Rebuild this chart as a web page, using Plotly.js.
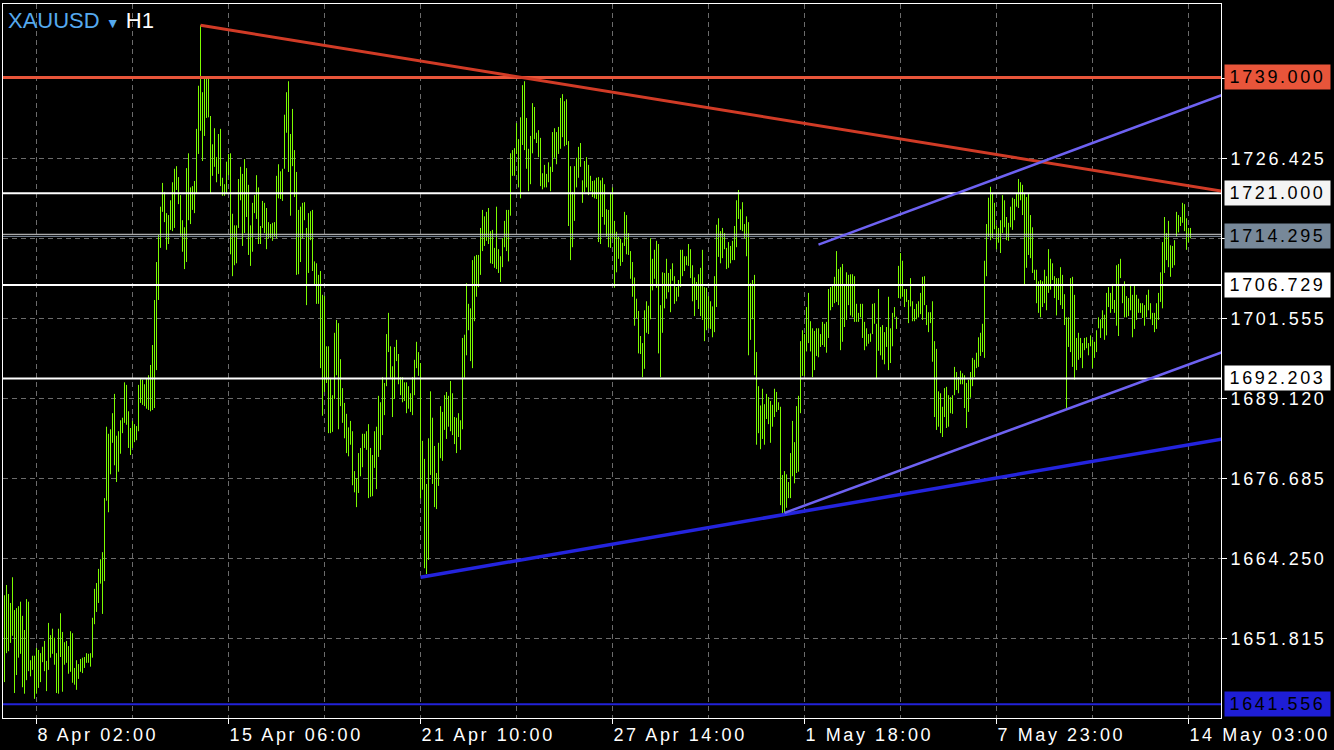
<!DOCTYPE html>
<html>
<head>
<meta charset="utf-8">
<script src="https://cdn.plot.ly/plotly-3.0.1.min.js"></script>
<style>
html, body { margin: 0; padding: 0; background: #000; }
#chart { width: 1334px; height: 750px; }
.xtick text, text.xtick, .ytick text, text.ytick, text.annotation-text { letter-spacing: 2.6px; }
</style>
</head>
<body>
<div id="chart"></div>
<script>
// ---- XAUUSD H1 bars (high / low), one entry per hourly bar ----
const barHighs = [
1658.5,1660.1,1658.7,1657.3,1661.3,1656.2,1656.5,1656.8,1657.5,1655.3,
1653.1,1657.9,1657.5,1648.4,1649.1,1649.1,1650.3,1650.0,1649.5,1650.5,
1651.4,1648.3,1654.2,1652.3,1653.3,1651.9,1649.5,1653.3,1655.7,1652.8,
1651.2,1651.4,1650.6,1652.9,1652.6,1647.2,1648.4,1647.8,1648.6,1648.8,
1648.9,1649.5,1649.4,1649.5,1655.0,1659.5,1660.4,1662.6,1664.1,1665.2,
1673.6,1684.7,1683.6,1684.3,1686.8,1689.8,1683.3,1684.0,1685.7,1686.1,
1691.6,1691.2,1687.1,1684.5,1685.6,1685.1,1684.8,1691.2,1692.1,1692.0,
1691.3,1692.1,1692.7,1694.3,1697.4,1704.4,1710.3,1714.5,1718.9,1722.6,
1721.2,1717.9,1717.6,1719.9,1722.7,1724.8,1725.2,1723.5,1720.7,1716.8,
1715.7,1724.9,1727.2,1721.9,1722.1,1722.9,1731.0,1737.7,1747.1,1736.7,
1738.9,1738.9,1738.9,1733.0,1728.6,1731.1,1726.6,1730.2,1731.0,1723.4,
1722.4,1725.9,1727.1,1727.2,1717.8,1716.0,1716.0,1723.2,1725.1,1724.0,
1726.3,1724.9,1722.3,1716.0,1719.5,1720.7,1723.8,1721.9,1715.9,1719.8,
1719.5,1718.7,1716.5,1716.2,1716.4,1716.5,1723.7,1725.5,1724.4,1724.8,
1733.2,1736.7,1738.4,1730.2,1734.1,1727.7,1724.3,1718.4,1718.9,1719.5,
1719.6,1715.6,1717.9,1718.2,1718.4,1710.4,1710.1,1708.3,1708.9,1705.2,
1705.0,1697.2,1697.2,1692.3,1689.6,1699.3,1701.3,1700.8,1695.2,1690.7,
1688.4,1686.7,1684.6,1685.6,1684.0,1677.8,1676.7,1680.6,1681.4,1683.6,
1683.6,1684.0,1685.1,1681.4,1680.3,1684.0,1684.7,1689.5,1688.5,1692.4,
1691.5,1699.1,1702.4,1697.2,1694.1,1697.1,1698.2,1696.0,1692.4,1692.4,
1691.6,1691.6,1691.0,1689.9,1692.4,1695.1,1697.9,1696.3,1694.6,1682.5,
1679.7,1675.8,1682.9,1690.2,1686.1,1681.7,1677.5,1682.2,1687.9,1687.0,
1689.6,1690.1,1689.5,1691.8,1689.9,1686.2,1686.1,1686.8,1685.7,1698.5,
1699.0,1707.0,1703.8,1703.1,1710.6,1711.2,1711.4,1711.4,1715.6,1718.4,
1717.4,1718.1,1718.7,1715.1,1715.3,1712.5,1718.9,1712.3,1711.2,1714.0,
1716.7,1718.4,1718.4,1727.2,1727.7,1728.0,1731.9,1729.4,1732.8,1737.8,
1738.4,1732.7,1727.9,1729.9,1735.0,1734.4,1730.4,1730.8,1729.6,1724.1,
1725.4,1724.0,1725.8,1725.1,1730.5,1731.1,1730.5,1731.3,1735.8,1736.4,
1735.3,1735.6,1729.1,1725.2,1721.2,1725.2,1726.5,1728.2,1728.8,1723.0,
1726.0,1726.6,1725.4,1723.7,1722.9,1723.0,1723.4,1723.5,1723.0,1723.4,
1722.4,1718.5,1718.4,1721.0,1721.9,1716.7,1715.0,1714.3,1713.9,1713.3,
1718.1,1717.6,1714.8,1712.0,1710.3,1707.9,1704.6,1702.7,1698.8,1697.7,
1702.8,1704.2,1703.5,1714.0,1710.8,1712.2,1713.6,1713.1,1703.6,1708.7,
1708.6,1710.8,1708.6,1709.2,1710.1,1708.1,1706.4,1707.5,1712.2,1712.2,
1711.2,1711.2,1713.1,1712.3,1709.8,1707.9,1707.2,1708.4,1709.4,1712.2,
1706.4,1706.3,1705.0,1704.2,1703.4,1708.1,1716.1,1717.1,1715.1,1715.6,
1714.8,1712.5,1713.4,1712.8,1713.6,1715.9,1719.9,1721.5,1718.5,1719.6,
1716.2,1717.4,1716.5,1707.0,1707.5,1708.3,1696.3,1691.0,1688.0,1690.6,
1688.2,1689.8,1689.3,1688.7,1688.1,1690.6,1690.1,1688.5,1687.8,1677.2,
1677.8,1677.3,1676.1,1680.6,1685.6,1682.3,1687.9,1689.5,1698.0,1699.7,
1699.1,1703.3,1705.5,1701.1,1700.0,1699.6,1700.0,1700.0,1699.1,1701.0,
1700.7,1701.0,1706.1,1706.4,1706.7,1708.0,1712.0,1709.2,1709.5,1710.0,
1706.9,1708.7,1708.3,1708.4,1708.4,1708.1,1703.8,1702.4,1703.8,1703.8,
1701.0,1700.0,1699.1,1699.2,1703.8,1703.9,1700.7,1706.1,1700.2,1700.5,
1699.4,1700.2,1704.9,1700.0,1702.4,1703.3,1701.8,1709.7,1711.7,1710.5,
1706.1,1706.1,1704.4,1707.8,1704.2,1703.0,1703.8,1704.2,1705.5,1708.0,
1708.1,1703.6,1702.5,1702.5,1704.2,1698.0,1696.8,1690.2,1689.9,1687.8,
1690.7,1690.9,1689.6,1689.3,1689.6,1694.0,1693.2,1692.4,1693.4,1693.0,
1692.7,1691.5,1692.0,1693.2,1695.4,1695.1,1696.2,1698.6,1699.3,1700.7,
1710.5,1716.2,1720.3,1722.0,1720.9,1719.5,1716.0,1715.6,1716.8,1720.7,
1719.9,1717.3,1716.4,1718.9,1720.3,1720.1,1721.0,1723.2,1722.7,1722.3,
1721.0,1720.4,1721.0,1717.6,1715.7,1709.1,1709.1,1707.3,1707.5,1707.3,
1709.1,1708.1,1712.3,1710.8,1710.1,1708.1,1707.8,1707.8,1709.5,1708.3,
1705.3,1701.7,1701.7,1707.8,1708.0,1705.2,1698.5,1699.3,1698.5,1697.7,
1698.5,1698.6,1697.7,1698.9,1698.2,1697.9,1699.7,1701.7,1701.4,1702.8,
1702.1,1705.5,1706.4,1705.5,1706.9,1704.4,1709.8,1710.0,1710.8,1706.7,
1707.3,1705.0,1704.7,1706.6,1705.2,1706.6,1705.2,1704.6,1703.9,1703.9,
1703.6,1705.2,1706.0,1703.9,1702.4,1702.4,1703.9,1705.5,1708.7,1713.4,
1717.3,1714.8,1716.7,1712.9,1712.8,1713.7,1718.1,1717.6,1717.3,1719.5,
1719.3,1717.1,1715.6,1715.6
];
const barLows = [
1645.0,1649.5,1649.8,1651.1,1652.2,1643.3,1646.1,1648.8,1649.4,1644.2,
1643.2,1645.3,1646.7,1645.9,1646.9,1642.4,1643.2,1644.1,1645.0,1648.1,
1646.7,1643.6,1646.9,1648.8,1649.4,1647.7,1643.3,1643.2,1648.9,1643.5,
1647.7,1648.0,1646.3,1646.6,1644.9,1644.6,1643.8,1645.5,1646.6,1646.4,
1647.2,1648.0,1648.0,1647.4,1648.8,1654.0,1655.9,1657.3,1660.3,1655.6,
1660.7,1673.2,1671.4,1677.3,1682.2,1678.7,1676.1,1677.7,1680.5,1683.7,
1685.3,1685.0,1681.4,1680.3,1681.4,1682.3,1682.6,1684.0,1688.4,1688.1,
1687.9,1687.5,1687.3,1687.1,1687.3,1687.6,1693.5,1704.4,1712.5,1718.1,
1716.5,1712.2,1713.1,1715.3,1715.1,1715.6,1721.5,1719.3,1714.4,1711.9,
1709.2,1710.3,1716.8,1716.2,1718.4,1717.9,1721.0,1727.1,1730.7,1726.0,
1729.9,1732.7,1732.8,1720.9,1723.7,1725.1,1722.7,1724.0,1722.1,1720.6,
1720.6,1720.9,1723.8,1711.5,1708.1,1709.8,1710.1,1715.6,1719.9,1712.8,
1714.8,1717.3,1711.4,1709.7,1711.9,1717.9,1717.0,1713.1,1713.1,1715.6,
1714.8,1712.3,1714.0,1714.0,1713.6,1714.2,1714.0,1720.2,1720.1,1719.8,
1724.8,1730.4,1724.3,1717.5,1725.2,1720.4,1708.3,1708.4,1710.3,1714.0,
1716.8,1703.6,1708.6,1713.7,1708.9,1706.6,1703.8,1703.8,1693.8,1686.4,
1690.1,1691.5,1683.7,1683.7,1683.9,1689.0,1692.7,1684.3,1687.9,1685.3,
1682.9,1680.6,1680.1,1681.9,1675.6,1674.5,1672.2,1674.4,1677.0,1678.4,
1681.4,1681.1,1673.6,1673.8,1673.9,1678.3,1675.0,1680.0,1681.1,1683.4,
1686.5,1691.0,1696.3,1692.3,1686.2,1689.0,1694.9,1691.3,1689.6,1688.5,
1688.7,1686.8,1687.5,1687.0,1686.5,1689.6,1693.8,1692.6,1673.5,1674.9,
1662.7,1661.8,1664.0,1677.2,1675.8,1672.2,1671.9,1675.5,1679.8,1679.4,
1684.2,1682.8,1684.7,1684.0,1683.4,1682.0,1680.6,1683.1,1681.1,1684.3,
1692.3,1695.8,1699.7,1694.9,1693.8,1701.1,1704.9,1706.4,1708.3,1712.0,
1712.8,1713.6,1713.1,1710.1,1710.0,1709.4,1709.2,1708.6,1707.2,1709.5,
1712.6,1712.0,1710.4,1717.5,1723.7,1723.7,1727.1,1721.9,1720.2,1728.5,
1727.7,1724.8,1721.3,1722.4,1727.2,1729.4,1728.8,1726.6,1722.1,1721.6,
1721.9,1721.9,1722.7,1721.3,1724.3,1726.5,1725.5,1727.1,1727.9,1729.7,
1728.3,1728.5,1715.9,1710.6,1712.6,1716.7,1721.9,1723.4,1725.1,1719.5,
1721.2,1721.9,1720.7,1721.3,1720.4,1720.2,1720.1,1713.4,1713.1,1717.3,
1716.1,1714.2,1712.6,1712.5,1713.9,1706.3,1708.7,1710.8,1709.7,1710.3,
1712.8,1711.5,1711.4,1707.7,1704.9,1700.4,1701.6,1696.1,1696.0,1692.4,
1693.7,1699.3,1699.1,1701.4,1705.9,1707.7,1706.3,1696.1,1692.4,1699.3,
1703.1,1704.6,1705.6,1702.5,1707.4,1703.8,1704.2,1704.9,1706.4,1708.1,
1708.9,1709.8,1709.7,1707.8,1704.2,1701.9,1704.4,1703.0,1701.9,1701.3,
1698.0,1699.7,1700.0,1699.9,1698.6,1699.4,1703.3,1711.1,1710.1,1710.9,
1712.3,1709.2,1709.4,1710.1,1710.6,1710.6,1712.6,1717.0,1715.3,1715.1,
1714.0,1711.2,1695.8,1698.2,1701.4,1692.7,1681.9,1683.7,1681.2,1682.8,
1681.9,1685.9,1685.1,1682.2,1684.7,1686.2,1687.0,1687.3,1672.5,1671.3,
1671.3,1672.1,1673.6,1673.6,1677.0,1675.9,1677.5,1677.7,1686.8,1692.6,
1692.6,1696.4,1697.7,1696.4,1692.4,1693.5,1695.7,1695.5,1697.1,1697.4,
1697.1,1696.2,1698.5,1702.8,1703.3,1703.9,1704.1,1703.6,1696.6,1697.9,
1700.2,1701.3,1703.6,1702.0,1701.7,1701.0,1701.0,1701.0,1701.7,1698.5,
1696.6,1697.2,1697.6,1697.9,1699.1,1700.7,1692.1,1696.5,1695.8,1695.1,
1694.4,1697.1,1693.5,1694.6,1697.2,1701.7,1699.9,1704.7,1704.6,1704.9,
1703.3,1704.1,1700.8,1703.4,1701.1,1701.1,1701.4,1701.7,1702.2,1701.3,
1703.6,1700.5,1699.4,1700.8,1694.8,1686.2,1684.2,1684.7,1683.7,1683.1,
1686.2,1684.5,1684.7,1686.8,1686.7,1689.6,1690.4,1689.9,1691.3,1691.3,
1687.6,1684.5,1687.0,1689.2,1691.0,1692.4,1693.8,1694.0,1695.7,1696.3,
1695.4,1708.1,1714.2,1713.7,1714.0,1715.4,1712.3,1713.3,1711.7,1714.8,
1715.7,1713.7,1713.6,1715.7,1715.3,1716.8,1718.9,1718.7,1719.9,1717.6,
1706.7,1709.4,1711.4,1710.9,1708.6,1707.5,1703.9,1702.4,1701.7,1703.3,
1703.9,1702.8,1705.5,1706.0,1707.5,1704.7,1702.0,1704.4,1703.6,1703.0,
1700.5,1687.5,1697.1,1696.3,1694.0,1692.0,1693.5,1695.1,1695.4,1693.8,
1696.6,1696.9,1695.8,1697.2,1693.8,1695.4,1696.3,1700.0,1698.5,1700.0,
1698.2,1698.9,1703.3,1702.4,1703.0,1702.4,1700.4,1698.8,1707.8,1703.9,
1701.7,1701.7,1701.9,1702.8,1698.6,1699.9,1701.3,1702.4,1702.4,1701.6,
1700.4,1701.7,1702.8,1701.4,1700.5,1699.4,1699.9,1701.3,1704.1,1703.1,
1708.6,1710.6,1709.5,1708.0,1709.4,1709.8,1714.2,1714.9,1715.9,1716.4,
1715.1,1712.2,1713.4,1714.0
];

// ---- time axis (bar index of labelled ticks) ----
const timeTickBars = [16, 112, 208, 304, 400, 496, 592];
const timeTickLabels = ['8 Apr 02:00', '15 Apr 06:00', '21 Apr 10:00', '27 Apr 14:00', '1 May 18:00', '7 May 23:00', '14 May 03:00'];

// ---- price axis ticks ----
const priceTicks = [1651.815, 1664.250, 1676.685, 1689.120, 1701.555, 1713.990, 1726.425, 1738.860];
const priceRange = [1639.42, 1750.41];

// ---- horizontal price levels with right-side labels ----
const levelPrices = [1739.000, 1721.000, 1714.295, 1706.729, 1692.203, 1641.556];
const levelLineColors = ['#e8553a', '#ffffff', '#8c99aa', '#ffffff', '#ffffff', '#2222d8'];
const levelLineWidths = [3, 2, 1, 2, 2, 2];
const levelLabelBg = ['#e8553a', '#f4f4f4', '#778899', '#ffffff', '#ffffff', '#1e1ed6'];
const askPrice = 1714.61;

// ---- trend lines (bar index, price) ----
const resistanceBars = [98, 609];
const resistancePrices = [1747.1, 1721.3];
const supportBars = [208, 609];
const supportPrices = [1661.3, 1682.8];
const upperChannelBars = [407, 609];
const upperChannelPrices = [1713.0, 1736.3];
const lowerChannelBars = [390, 609];
const lowerChannelPrices = [1671.3, 1696.3];

// ---- build bar segments ----
const segX = [], segY = [];
barHighs.forEach((h, i) => {
  segX.push(i, i, null);
  segY.push(barLows[i], h, null);
});

const FONT = 'Liberation Sans, Arial, sans-serif';
const gridColor = '#6b6b6b';
const gridDash = '5px,4px';

const shapes = [];
levelPrices.forEach((p, i) => {
  shapes.push({type: 'line', xref: 'paper', x0: 0, x1: 1, yref: 'y', y0: p, y1: p,
    line: {color: levelLineColors[i], width: levelLineWidths[i]}});
});
shapes.push({type: 'line', xref: 'paper', x0: 0, x1: 1, yref: 'y', y0: askPrice, y1: askPrice,
  line: {color: '#d6d6d6', width: 1}});
function trend(bars, prices, color, width) {
  shapes.push({type: 'line', xref: 'x', yref: 'y', x0: bars[0], x1: bars[1], y0: prices[0], y1: prices[1],
    line: {color: color, width: width}});
}
trend(resistanceBars, resistancePrices, '#d13b26', 3);
trend(supportBars, supportPrices, '#2424de', 3.5);
trend(upperChannelBars, upperChannelPrices, '#6e62f2', 2.5);
trend(lowerChannelBars, lowerChannelPrices, '#6e62f2', 2.5);

const annotations = levelPrices.map((p, i) => ({
  xref: 'paper', x: 1.00246, xanchor: 'left', yref: 'y', y: p, yanchor: 'middle',
  text: p.toFixed(3), showarrow: false, bgcolor: levelLabelBg[i], borderpad: 2,
  width: 101, align: 'center',
  font: {family: FONT, size: 18, color: '#000000'}
}));

const minorBars = timeTickBars.slice(0, -1).map(v => v + 48);

const data = [{
  type: 'scatter', mode: 'lines', x: segX, y: segY,
  line: {color: '#7cfc00', width: 1, simplify: false},
  hoverinfo: 'skip', connectgaps: false
}];

const layout = {
  width: 1334, height: 750,
  paper_bgcolor: '#000000', plot_bgcolor: '#000000',
  margin: {l: 3, r: 113, t: 4, b: 32},
  showlegend: false,
  title: {
    text: '<span style="color:#55a9ee">XAUUSD</span> <span style="color:#55a9ee;font-size:14px">▼</span> H1',
    xref: 'container', yref: 'container', x: 8 / 1334, xanchor: 'left', y: 1 - 20 / 750, yanchor: 'middle',
    font: {family: FONT, size: 22, color: '#ffffff'}
  },
  xaxis: {
    range: [-0.75, 608.25], zeroline: false,
    tickmode: 'array', tickvals: timeTickBars, ticktext: timeTickLabels,
    ticks: 'outside', ticklen: 5, tickwidth: 1, tickcolor: '#ffffff',
    ticklabelposition: 'outside right',
    tickfont: {family: FONT, size: 18, color: '#ffffff'},
    showgrid: true, gridcolor: gridColor, griddash: gridDash, gridwidth: 1,
    minor: {tickvals: minorBars, showgrid: true, gridcolor: gridColor, griddash: gridDash, gridwidth: 1, ticks: ''},
    showline: true, linecolor: '#ffffff', linewidth: 1, mirror: true, fixedrange: true
  },
  yaxis: {
    side: 'right', range: priceRange, zeroline: false,
    tickmode: 'array', tickvals: priceTicks, ticktext: priceTicks.map(v => v.toFixed(3)),
    ticks: 'outside', ticklen: 5, tickwidth: 1, tickcolor: '#ffffff',
    tickfont: {family: FONT, size: 18, color: '#ffffff'},
    showgrid: true, gridcolor: gridColor, griddash: gridDash, gridwidth: 1,
    showline: true, linecolor: '#ffffff', linewidth: 1, mirror: true, fixedrange: true
  },
  shapes: shapes,
  annotations: annotations
};

Plotly.newPlot('chart', data, layout, {staticPlot: true, displayModeBar: false});
</script>
</body>
</html>
